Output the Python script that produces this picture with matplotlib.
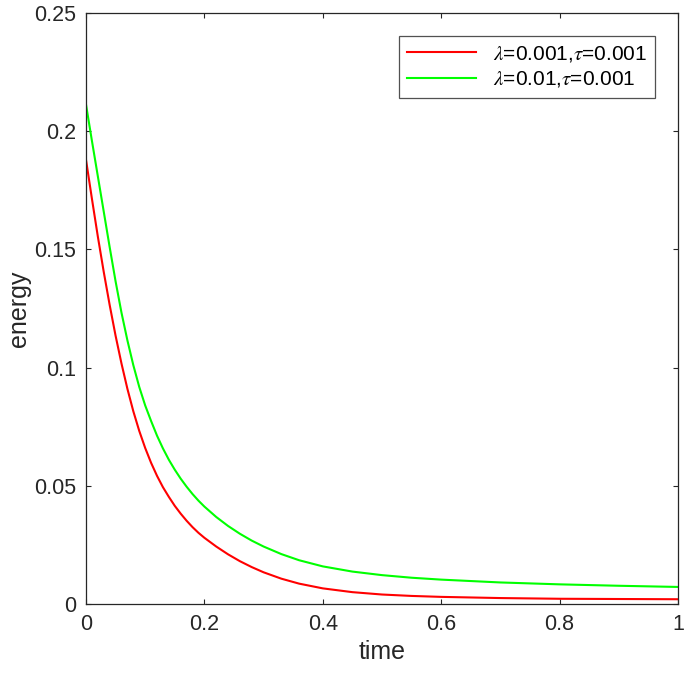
import matplotlib
matplotlib.use("Agg")
import matplotlib.pyplot as plt

plt.rcParams['font.family'] = ['Liberation Sans', 'DejaVu Sans']
plt.rcParams['mathtext.fontset'] = 'stix'

# values
t_red = [0.0, 0.01, 0.02, 0.03, 0.04, 0.05, 0.06, 0.07, 0.08, 0.09, 0.10, 0.11, 0.12,
         0.13, 0.14, 0.15, 0.16, 0.17, 0.18, 0.19, 0.20, 0.22, 0.24, 0.26, 0.28, 0.30,
         0.33, 0.36, 0.40, 0.45, 0.50, 0.55, 0.60, 0.70, 0.80, 0.90, 1.0]
e_red = [0.1880, 0.1715, 0.1555, 0.1405, 0.1265, 0.1135, 0.1017, 0.0910, 0.0815, 0.0732,
         0.0660, 0.0597, 0.0542, 0.0494, 0.0453, 0.0415, 0.0382, 0.0352, 0.0325, 0.0301,
         0.0280, 0.0243, 0.0210, 0.0181, 0.0156, 0.0134, 0.0107, 0.0086, 0.0066, 0.0050,
         0.0040, 0.0034, 0.0030, 0.0025, 0.0022, 0.0021, 0.0020]

t_green = [0.0, 0.01, 0.02, 0.03, 0.04, 0.05, 0.06, 0.07, 0.08, 0.09, 0.10, 0.11, 0.12,
           0.13, 0.14, 0.15, 0.16, 0.17, 0.18, 0.19, 0.20, 0.22, 0.24, 0.26, 0.28, 0.30,
           0.33, 0.36, 0.40, 0.45, 0.50, 0.55, 0.60, 0.70, 0.80, 0.90, 1.0]
e_green = [0.2114, 0.1960, 0.1810, 0.1660, 0.1510, 0.1365, 0.1232, 0.1115, 0.1010, 0.0918,
           0.0840, 0.0774, 0.0712, 0.0658, 0.0610, 0.0568, 0.0530, 0.0496, 0.0465, 0.0437,
           0.0412, 0.0368, 0.0330, 0.0297, 0.0268, 0.0243, 0.0211, 0.0185, 0.0159, 0.0137,
           0.0122, 0.0111, 0.0103, 0.0091, 0.0083, 0.0077, 0.0072]

labels = [r'$\lambda$=0.001,$\tau$=0.001', r'$\lambda$=0.01,$\tau$=0.001']

fig = plt.figure(figsize=(6.85, 6.79), dpi=100)
ax = fig.add_axes([0.1255, 0.1105, 0.8643, 0.8704])

ax.plot(t_red, e_red, color='#ff0000', lw=1.5, label=labels[0], solid_joinstyle='round')
ax.plot(t_green, e_green, color='#00ff00', lw=1.5, label=labels[1], solid_joinstyle='round')

ax.set_xlim(0, 1)
ax.set_ylim(0, 0.25)
ax.set_xticks([0, 0.2, 0.4, 0.6, 0.8, 1])
ax.set_xticklabels(['0', '0.2', '0.4', '0.6', '0.8', '1'])
ax.set_yticks([0, 0.05, 0.1, 0.15, 0.2, 0.25])
ax.set_yticklabels(['0', '0.05', '0.1', '0.15', '0.2', '0.25'])

ax.tick_params(direction='in', length=3.5, width=0.8, top=True, right=True,
               labelsize=15.5, colors='#262626', pad=7)
for s in ax.spines.values():
    s.set_color('#262626')
    s.set_linewidth(0.9)

ax.set_xlabel('time', fontsize=18, color='#262626', labelpad=4)
ax.set_ylabel('energy', fontsize=18, color='#262626', labelpad=2)

leg = ax.legend(loc='upper right', fontsize=15, frameon=True, fancybox=False,
                edgecolor='#262626', borderaxespad=1.1, handlelength=3.3,
                labelspacing=0.25, borderpad=0.4)
leg.get_frame().set_linewidth(0.9)

fig.savefig('out.png', dpi=100)
